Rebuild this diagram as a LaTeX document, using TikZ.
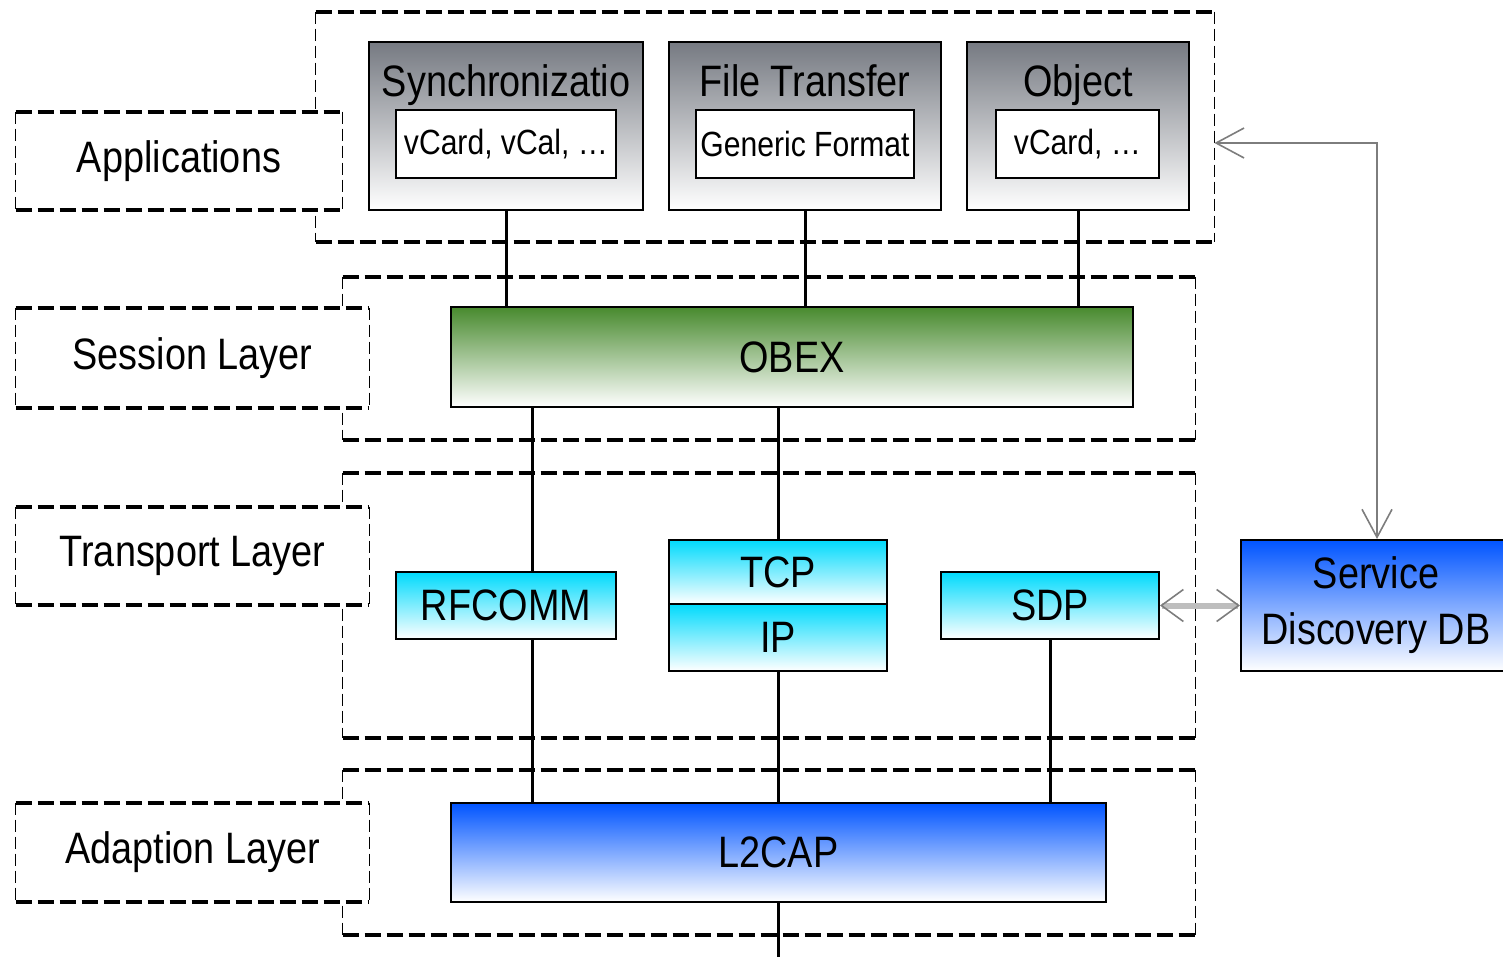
\documentclass[tikz,border=0pt]{standalone}
\usepackage{fontspec}
\setmainfont{Liberation Sans}[FakeStretch=0.86]
\usetikzlibrary{arrows.meta}
\definecolor{apgray}{RGB}{118,122,130}
\definecolor{obgreen}{RGB}{72,138,46}
\definecolor{cyanc}{RGB}{0,218,252}
\definecolor{bluec}{RGB}{0,84,255}
\definecolor{arrgray}{RGB}{125,125,125}
\definecolor{arrlight}{RGB}{190,190,190}
\newcommand\myframe[1]{%
  \draw[hd] (#1.north west) -- (#1.north east) (#1.south west) -- (#1.south east);
  \draw[vd] (#1.north west) -- (#1.south west) (#1.north east) -- (#1.south east);}
\begin{document}
\begin{tikzpicture}[x=0.5pt,y=-0.5pt,
  hd/.style={line width=2pt, dash pattern=on 8pt off 3pt},
  vd/.style={line width=0.8pt, dash pattern=on 6pt off 2.5pt},
  grp/.style={inner sep=0pt},
  lbl/.style={inner sep=0pt, fill=white, font=\fontsize{22}{26}\selectfont},
  comp/.style={draw, line width=1pt, inner sep=0pt, font=\fontsize{22}{26}\selectfont},
  appbox/.style={comp, top color=apgray, middle color=apgray!30!white, bottom color=white},
  inbox/.style={draw, line width=1pt, fill=white, inner sep=0pt, font=\fontsize{17.5}{21}\selectfont},
  title/.style={inner sep=0pt, font=\fontsize{22}{26}\selectfont},
  greenbox/.style={comp, top color=obgreen, middle color=obgreen!25!white, bottom color=white},
  cyanbox/.style={comp, top color=cyanc, middle color=cyanc!45!white, bottom color=white},
  bluebox/.style={comp, top color=bluec, middle color=bluec!40!white, bottom color=white},
  conn/.style={line width=1.5pt},
  thinarr/.style={draw=arrgray, line width=0.8pt, {Straight Barb[length=14pt,width=15pt]}-{Straight Barb[length=14pt,width=15pt]}},
  thickarr/.style={draw=arrlight, line width=3pt, {Straight Barb[length=11pt,width=16pt,line width=0.8pt,color=arrgray]}-{Straight Barb[length=11pt,width=16pt,line width=0.8pt,color=arrgray]}}
]
\useasboundingbox (0,0) rectangle (1503,957);

% group frames
\node[grp, minimum width=449pt, minimum height=115pt] (appg) at (765,127) {};
\node[grp, minimum width=426pt, minimum height=81.5pt] (sessg) at (769,358.5) {};
\node[grp, minimum width=426pt, minimum height=132.5pt] (transg) at (769,605.5) {};
\node[grp, minimum width=426pt, minimum height=82.5pt] (adg) at (769,852.5) {};
\myframe{appg}
\myframe{sessg}
\myframe{transg}
\myframe{adg}

% layer labels
\node[lbl, minimum width=163pt, minimum height=49pt] (appl) at (179,161) {Applications};
\node[lbl, minimum width=176.5pt, minimum height=50pt] (sessl) at (192.5,358) {Session Layer};
\node[lbl, minimum width=176.5pt, minimum height=49pt] (transl) at (192.5,556) {Transport Layer};
\node[lbl, minimum width=176.5pt, minimum height=49.5pt] (adl) at (192.5,852.5) {Adaption Layer};
\myframe{appl}
\myframe{sessl}
\myframe{transl}
\myframe{adl}

% application boxes
\node[appbox, minimum width=137pt, minimum height=84pt] (sync) at (506,126) {};
\node[title, anchor=base] (synct) at (506,97) {Synchronizatio};
\node[inbox, minimum width=110pt, minimum height=34pt] (synci) at (506,144) {vCard, vCal, \ldots};
\node[appbox, minimum width=136pt, minimum height=84pt] (ft) at (805,126) {};
\node[title, anchor=base] (ftt) at (805,97) {File Transfer};
\node[inbox, minimum width=109pt, minimum height=34pt] (fti) at (805,144) {Generic Format};
\node[appbox, minimum width=111pt, minimum height=84pt] (obj) at (1078,126) {};
\node[title, anchor=base] (objt) at (1078,97) {Object};
\node[inbox, minimum width=81.5pt, minimum height=34pt] (obji) at (1077.5,144) {vCard, \ldots};

% protocol boxes
\node[greenbox, minimum width=341pt, minimum height=50pt] (obex) at (792,357) {OBEX};
\node[cyanbox, minimum width=110pt, minimum height=33.5pt] (rfcomm) at (506,605.5) {RFCOMM};
\node[cyanbox, minimum width=109pt, minimum height=32pt] (tcp) at (778,572) {TCP};
\node[cyanbox, minimum width=109pt, minimum height=33.5pt] (ip) at (778,637.5) {IP};
\node[cyanbox, minimum width=109pt, minimum height=33.5pt] (sdp) at (1050,605.5) {SDP};
\node[bluebox, minimum width=327.5pt, minimum height=49.5pt] (l2cap) at (778.5,852.5) {L2CAP};
\node[bluebox, minimum width=135pt, minimum height=65.5pt, align=center, font=\fontsize{22}{28}\selectfont] (sddb) at (1376,605.5) {Service\\Discovery DB};
\coordinate (bottom) at (778,960);

% connectors
\draw[conn] (sync.south) -- (sync.south |- obex.north);
\draw[conn] (ft.south) -- (ft.south |- obex.north);
\draw[conn] (obj.south) -- (obj.south |- obex.north);
\draw[conn] ([xshift=13pt]rfcomm.north) -- ([xshift=13pt]rfcomm.north |- obex.south);
\draw[conn] (tcp.north) -- (tcp.north |- obex.south);
\draw[conn] ([xshift=13pt]rfcomm.south) -- ([xshift=13pt]rfcomm.south |- l2cap.north);
\draw[conn] (ip.south) -- (ip.south |- l2cap.north);
\draw[conn] (sdp.south) -- (sdp.south |- l2cap.north);
\draw[conn] (l2cap.south) -- (l2cap.south |- bottom);

% arrows
\draw[thinarr] ([yshift=-8pt]appg.east) -| ([xshift=0.5pt]sddb.north);
\draw[thickarr] (sdp.east) -- (sdp.east -| sddb.west);
\end{tikzpicture}
\end{document}
